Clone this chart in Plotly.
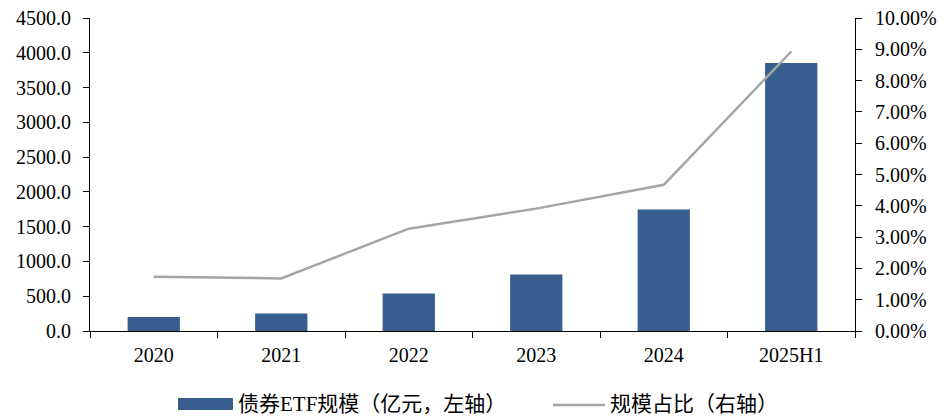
import plotly.graph_objects as go

# Bond ETF scale (100 million yuan) and its share of total ETF scale
periods = ["2020", "2021", "2022", "2023", "2024", "2025H1"]
bond_etf_scale = [200, 253, 540, 812, 1748, 3854]
scale_share = [0.0173, 0.0168, 0.0327, 0.0391, 0.0467, 0.0893]

bar_name = "债券ETF规模（亿元，左轴）"
line_name = "规模占比（右轴）"

BAR_COLOR = "#375E8F"
LINE_COLOR = "#A5A5A5"
serif = "Liberation Serif, Times New Roman, Noto Sans CJK SC, serif"

W, H = 947, 416
M = dict(l=90, r=92, t=18, b=85)
plot_w = W - M["l"] - M["r"]
plot_h = H - M["t"] - M["b"]


def px_x(x):
    """Pixel column -> paper x."""
    return (x - M["l"]) / plot_w


def px_y(y):
    """Pixel row (from top) -> paper y."""
    return (H - M["b"] - y) / plot_h


fig = go.Figure()
fig.add_trace(go.Bar(
    x=periods, y=bond_etf_scale, name=bar_name,
    marker=dict(color=BAR_COLOR, line=dict(width=0)),
    width=0.41, yaxis="y", showlegend=False,
))
fig.add_trace(go.Scatter(
    x=periods, y=scale_share, name=line_name, mode="lines",
    line=dict(color=LINE_COLOR, width=2.5), yaxis="y2", showlegend=False,
))

axis_font = dict(family=serif, size=20, color="#000000")

# Legend drawn below the plot: a swatch for the bars and a stroke for the line
legend_font = dict(family=serif, size=21, color="#000000")
shapes = [
    dict(type="rect", xref="paper", yref="paper",
         x0=px_x(178), x1=px_x(233), y0=px_y(410), y1=px_y(398),
         fillcolor=BAR_COLOR, line=dict(width=0)),
    dict(type="line", xref="paper", yref="paper",
         x0=px_x(553), x1=px_x(605), y0=px_y(405), y1=px_y(405),
         line=dict(color=LINE_COLOR, width=2.5)),
]
annotations = [
    dict(text=bar_name, xref="paper", yref="paper", x=px_x(236), y=px_y(404),
         xanchor="left", yanchor="middle", showarrow=False, font=legend_font),
    dict(text=line_name, xref="paper", yref="paper", x=px_x(608), y=px_y(404),
         xanchor="left", yanchor="middle", showarrow=False, font=legend_font),
]

fig.update_layout(
    width=W, height=H,
    margin=M,
    plot_bgcolor="white", paper_bgcolor="white",
    font=axis_font,
    showlegend=False,
    shapes=shapes,
    annotations=annotations,
    xaxis=dict(
        type="category", showline=True, linecolor="#000", linewidth=1,
        ticks="outside", tickson="boundaries", ticklen=6, tickcolor="#000",
        ticklabelstandoff=6,
        showgrid=False, tickfont=axis_font, automargin=False,
    ),
    yaxis=dict(
        range=[0, 4500], dtick=500, tickformat=".1f",
        showline=True, linecolor="#000", linewidth=1,
        ticks="outside", ticklen=6, tickcolor="#000",
        ticklabelstandoff=8,
        showgrid=False, zeroline=False, tickfont=axis_font, automargin=False,
    ),
    yaxis2=dict(
        range=[0, 0.1], dtick=0.01, tickformat=".2%",
        overlaying="y", side="right",
        showline=True, linecolor="#000", linewidth=1,
        ticks="outside", ticklen=6, tickcolor="#000",
        ticklabelstandoff=9,
        showgrid=False, zeroline=False, tickfont=axis_font, automargin=False,
    ),
)

fig.write_html("out.html")
